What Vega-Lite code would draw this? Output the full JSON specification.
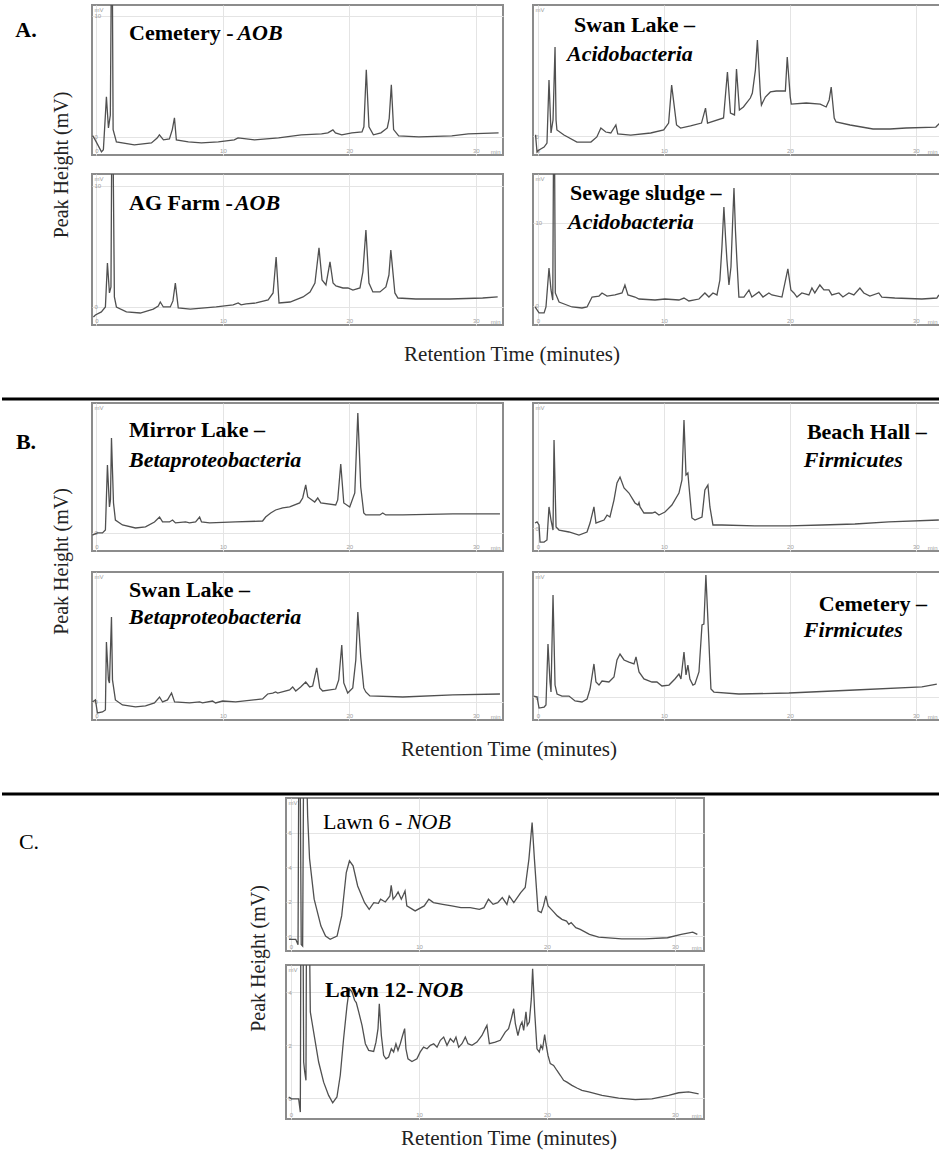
{
"$schema": "https://vega.github.io/schema/vega-lite/v6.json",
"padding": {"left": 0, "top": 4, "right": 0, "bottom": 0},
"background": "white",
"config": {
  "view": {"stroke": null},
  "concat": {"spacing": 0},
  "axis": {"domain": false, "ticks": false, "tickSize": 0, "grid": true, "gridColor": "#e4e4e4", "gridWidth": 1, "labelColor": "#a0a0a0", "labelFontSize": 6, "labelFont": "Liberation Sans", "titleFont": "Liberation Sans", "titleFontSize": 6, "titleColor": "#a0a0a0", "titleFontWeight": "normal", "labelFlush": true, "labelOverlap": false},
  "axisX": {"labelPadding": -8, "titleAnchor": "end", "titleAlign": "right", "titleBaseline": "bottom", "titleY": -1, "titlePadding": 0},
  "axisY": {"labelPadding": -2, "labelAlign": "left", "labelBaseline": "middle", "labelFlush": false, "titleAngle": 0, "titleAnchor": "end", "titleAlign": "left", "titleBaseline": "top", "titleX": 2, "titleY": 1}
},
"datasets": {
"A1": [{"t":-0.3,"v":0.1},{"t":-0.1,"v":-0.25},{"t":0.4,"v":-1.24},{"t":0.55,"v":-1.07},{"t":0.72,"v":2.0},{"t":0.79,"v":3.31},{"t":0.86,"v":2.2},{"t":0.95,"v":0.74},{"t":1.1,"v":1.8},{"t":1.19,"v":15},{"t":1.25,"v":15},{"t":1.32,"v":0.6},{"t":1.58,"v":-0.41},{"t":3.0,"v":-0.66},{"t":4.35,"v":-0.5},{"t":4.8,"v":-0.1},{"t":4.98,"v":0.17},{"t":5.3,"v":-0.25},{"t":5.77,"v":-0.17},{"t":6.0,"v":0.6},{"t":6.17,"v":1.57},{"t":6.32,"v":-0.25},{"t":7.27,"v":-0.41},{"t":8.3,"v":-0.5},{"t":9.64,"v":-0.41},{"t":10.9,"v":-0.25},{"t":11.2,"v":-0.08},{"t":12.5,"v":-0.25},{"t":14.4,"v":-0.08},{"t":16.2,"v":0.17},{"t":17.8,"v":0.25},{"t":18.3,"v":0.33},{"t":18.7,"v":0.58},{"t":18.9,"v":0.33},{"t":19.4,"v":0.17},{"t":20.2,"v":0.33},{"t":21.0,"v":0.41},{"t":21.15,"v":0.83},{"t":21.34,"v":5.54},{"t":21.55,"v":0.83},{"t":21.9,"v":0.17},{"t":22.5,"v":0.33},{"t":23.0,"v":0.74},{"t":23.15,"v":1.5},{"t":23.32,"v":4.3},{"t":23.5,"v":0.6},{"t":23.9,"v":0.08},{"t":25.5,"v":0.0},{"t":28.1,"v":0.08},{"t":29.4,"v":0.25},{"t":31.8,"v":0.33}],
"A2": [{"t":-0.2,"v":0.1},{"t":-0.08,"v":-1.32},{"t":0.08,"v":-1.16},{"t":0.48,"v":-0.91},{"t":0.71,"v":-0.58},{"t":0.87,"v":4.63},{"t":1.03,"v":0.25},{"t":1.19,"v":1.32},{"t":1.35,"v":7.36},{"t":1.43,"v":1.32},{"t":1.5,"v":0.5},{"t":2.06,"v":0.08},{"t":3.09,"v":-0.5},{"t":4.2,"v":-0.5},{"t":4.67,"v":-0.08},{"t":4.99,"v":0.66},{"t":5.38,"v":0.33},{"t":5.78,"v":0.25},{"t":6.18,"v":0.91},{"t":6.33,"v":0.17},{"t":7.36,"v":0.08},{"t":8.95,"v":0.25},{"t":9.98,"v":0.5},{"t":10.37,"v":1.07},{"t":10.61,"v":4.21},{"t":11.0,"v":0.91},{"t":11.32,"v":0.66},{"t":12.11,"v":0.83},{"t":12.98,"v":1.07},{"t":13.3,"v":2.31},{"t":13.46,"v":1.07},{"t":14.73,"v":1.49},{"t":15.04,"v":5.29},{"t":15.28,"v":1.9},{"t":15.6,"v":1.74},{"t":15.76,"v":5.54},{"t":15.99,"v":2.15},{"t":16.31,"v":2.4},{"t":16.86,"v":3.14},{"t":17.02,"v":3.55},{"t":17.26,"v":5.45},{"t":17.42,"v":7.93},{"t":17.66,"v":3.39},{"t":17.74,"v":2.56},{"t":18.05,"v":3.22},{"t":18.45,"v":3.64},{"t":18.92,"v":3.72},{"t":19.64,"v":3.72},{"t":19.79,"v":6.53},{"t":20.03,"v":3.22},{"t":20.11,"v":2.64},{"t":21.3,"v":2.73},{"t":22.41,"v":2.64},{"t":22.88,"v":2.4},{"t":23.12,"v":2.98},{"t":23.28,"v":4.05},{"t":23.52,"v":1.49},{"t":23.67,"v":1.16},{"t":24.78,"v":0.91},{"t":26.6,"v":0.58},{"t":27.95,"v":0.58},{"t":29.22,"v":0.66},{"t":31.59,"v":0.74},{"t":31.9,"v":1.07}],
"A3": [{"t":-0.24,"v":-0.83},{"t":-0.08,"v":-0.66},{"t":0.39,"v":-0.41},{"t":0.71,"v":0},{"t":0.87,"v":3.64},{"t":1.03,"v":1.16},{"t":1.15,"v":1.65},{"t":1.22,"v":15},{"t":1.3,"v":15},{"t":1.42,"v":0.83},{"t":1.58,"v":0},{"t":2.37,"v":-0.41},{"t":3.47,"v":-0.5},{"t":4.5,"v":-0.17},{"t":4.89,"v":0.08},{"t":5.05,"v":0.41},{"t":5.29,"v":0},{"t":5.84,"v":0},{"t":6.05,"v":0.5},{"t":6.24,"v":1.98},{"t":6.47,"v":-0.08},{"t":7.42,"v":-0.17},{"t":9.47,"v":0},{"t":10.81,"v":0.17},{"t":11.21,"v":0.33},{"t":11.44,"v":0.17},{"t":11.84,"v":0.25},{"t":12.63,"v":0.33},{"t":13.58,"v":0.58},{"t":13.97,"v":1.16},{"t":14.21,"v":4.13},{"t":14.44,"v":0.33},{"t":15.31,"v":0.41},{"t":16.34,"v":0.83},{"t":16.89,"v":1.24},{"t":17.28,"v":1.98},{"t":17.6,"v":4.88},{"t":17.84,"v":2.23},{"t":18.15,"v":1.82},{"t":18.47,"v":3.72},{"t":18.71,"v":1.98},{"t":18.94,"v":1.74},{"t":19.49,"v":1.57},{"t":19.89,"v":1.57},{"t":20.28,"v":1.4},{"t":20.84,"v":1.57},{"t":21.07,"v":2.89},{"t":21.31,"v":6.36},{"t":21.55,"v":1.98},{"t":21.86,"v":1.24},{"t":22.42,"v":1.24},{"t":22.89,"v":1.65},{"t":23.13,"v":2.64},{"t":23.28,"v":4.71},{"t":23.6,"v":1.16},{"t":23.84,"v":0.74},{"t":25.26,"v":0.66},{"t":27.94,"v":0.66},{"t":30.54,"v":0.74},{"t":31.73,"v":0.83}],
"A4": [{"t":-0.24,"v":-0.12},{"t":0.08,"v":-0.84},{"t":0.48,"v":-0.84},{"t":0.63,"v":-0.12},{"t":0.87,"v":4.58},{"t":1.03,"v":1.93},{"t":1.17,"v":0.72},{"t":1.24,"v":22},{"t":1.3,"v":22},{"t":1.37,"v":1.57},{"t":1.67,"v":0.48},{"t":2.7,"v":-0.12},{"t":3.49,"v":-0.24},{"t":3.89,"v":-0.12},{"t":4.29,"v":1.08},{"t":4.84,"v":1.2},{"t":5.08,"v":1.57},{"t":5.48,"v":1.2},{"t":6.11,"v":1.33},{"t":6.67,"v":1.57},{"t":6.9,"v":2.53},{"t":7.14,"v":1.33},{"t":7.7,"v":1.08},{"t":8.02,"v":0.84},{"t":9.29,"v":0.72},{"t":10.08,"v":0.84},{"t":11.19,"v":0.72},{"t":11.59,"v":0.96},{"t":11.98,"v":0.6},{"t":12.78,"v":0.84},{"t":13.25,"v":1.57},{"t":13.57,"v":1.08},{"t":13.89,"v":1.57},{"t":14.21,"v":1.33},{"t":14.44,"v":3.13},{"t":14.6,"v":7.0},{"t":14.76,"v":11.93},{"t":14.9,"v":8.0},{"t":15.0,"v":5.54},{"t":15.16,"v":2.53},{"t":15.32,"v":4.7},{"t":15.45,"v":10.0},{"t":15.56,"v":14.22},{"t":15.68,"v":9.0},{"t":15.79,"v":5.54},{"t":15.95,"v":1.08},{"t":16.35,"v":1.08},{"t":16.75,"v":1.93},{"t":16.98,"v":1.08},{"t":17.54,"v":1.69},{"t":17.86,"v":1.08},{"t":18.33,"v":1.57},{"t":18.57,"v":1.33},{"t":19.37,"v":1.08},{"t":19.84,"v":4.46},{"t":20.08,"v":1.93},{"t":20.32,"v":1.57},{"t":20.56,"v":1.08},{"t":20.95,"v":1.57},{"t":21.51,"v":1.33},{"t":21.75,"v":2.17},{"t":21.98,"v":1.57},{"t":22.38,"v":2.53},{"t":22.7,"v":1.93},{"t":23.1,"v":1.93},{"t":23.33,"v":1.33},{"t":23.89,"v":1.57},{"t":24.21,"v":1.08},{"t":24.68,"v":1.57},{"t":25.08,"v":1.33},{"t":25.56,"v":2.17},{"t":25.87,"v":1.57},{"t":26.35,"v":1.2},{"t":27.06,"v":1.57},{"t":27.3,"v":1.08},{"t":28.33,"v":0.96},{"t":30.48,"v":0.84},{"t":31.67,"v":0.96},{"t":31.83,"v":1.33}],
"B1": [{"t":-0.32,"v":-0.17},{"t":0.08,"v":0},{"t":0.48,"v":0},{"t":0.71,"v":0.25},{"t":0.87,"v":5.62},{"t":1.03,"v":2.15},{"t":1.11,"v":2.73},{"t":1.19,"v":7.85},{"t":1.35,"v":2.48},{"t":1.5,"v":1.07},{"t":2.06,"v":0.66},{"t":3.09,"v":0.41},{"t":3.88,"v":0.5},{"t":4.59,"v":0.91},{"t":4.99,"v":1.32},{"t":5.23,"v":0.91},{"t":5.78,"v":0.91},{"t":6.02,"v":1.07},{"t":6.25,"v":0.83},{"t":7.05,"v":0.91},{"t":7.36,"v":0.83},{"t":7.84,"v":0.91},{"t":8.16,"v":1.32},{"t":8.31,"v":0.91},{"t":8.95,"v":0.83},{"t":11.0,"v":0.91},{"t":13.14,"v":0.99},{"t":13.38,"v":1.32},{"t":13.78,"v":1.65},{"t":14.17,"v":1.9},{"t":14.73,"v":2.07},{"t":15.28,"v":2.15},{"t":16.07,"v":2.48},{"t":16.31,"v":2.89},{"t":16.55,"v":3.97},{"t":16.71,"v":2.98},{"t":17.26,"v":2.56},{"t":17.5,"v":2.89},{"t":17.74,"v":2.48},{"t":18.92,"v":2.31},{"t":19.08,"v":2.73},{"t":19.32,"v":5.7},{"t":19.56,"v":2.48},{"t":20.03,"v":2.15},{"t":20.43,"v":3.31},{"t":20.67,"v":9.92},{"t":20.9,"v":3.8},{"t":21.14,"v":1.65},{"t":21.3,"v":1.49},{"t":22.41,"v":1.49},{"t":22.64,"v":1.65},{"t":22.88,"v":1.49},{"t":24.23,"v":1.49},{"t":28.19,"v":1.57},{"t":31.91,"v":1.57}],
"B2": [{"t":-0.24,"v":0.41},{"t":-0.08,"v":0.5},{"t":0.08,"v":0.25},{"t":0.16,"v":-1.16},{"t":0.48,"v":-1.16},{"t":0.71,"v":-0.99},{"t":0.87,"v":1.74},{"t":1.03,"v":0.66},{"t":1.19,"v":-0.17},{"t":1.27,"v":7.27},{"t":1.43,"v":0.08},{"t":1.67,"v":-0.17},{"t":2.46,"v":-0.33},{"t":3.25,"v":-0.58},{"t":3.89,"v":-0.33},{"t":4.13,"v":0.41},{"t":4.44,"v":1.74},{"t":4.6,"v":0.41},{"t":4.84,"v":0.5},{"t":5.24,"v":0.66},{"t":5.48,"v":1.07},{"t":5.71,"v":0.91},{"t":6.03,"v":2.31},{"t":6.27,"v":3.72},{"t":6.51,"v":4.21},{"t":6.83,"v":3.31},{"t":7.22,"v":2.89},{"t":7.7,"v":2.07},{"t":7.94,"v":1.9},{"t":8.02,"v":2.1},{"t":8.1,"v":1.74},{"t":8.41,"v":1.24},{"t":9.05,"v":1.24},{"t":9.29,"v":1.32},{"t":9.6,"v":1.07},{"t":10.08,"v":1.32},{"t":10.63,"v":1.9},{"t":11.19,"v":2.89},{"t":11.43,"v":3.97},{"t":11.59,"v":8.93},{"t":11.75,"v":4.38},{"t":11.9,"v":4.55},{"t":11.98,"v":3.55},{"t":12.22,"v":0.83},{"t":12.46,"v":0.66},{"t":13.02,"v":0.91},{"t":13.25,"v":3.14},{"t":13.49,"v":3.55},{"t":13.65,"v":1.74},{"t":13.89,"v":0.25},{"t":14.6,"v":0.25},{"t":17.22,"v":0.17},{"t":19.92,"v":0.17},{"t":22.54,"v":0.25},{"t":25.16,"v":0.33},{"t":27.86,"v":0.5},{"t":31.83,"v":0.66}],
"B3": [{"t":-0.32,"v":0},{"t":-0.08,"v":0.17},{"t":0.08,"v":-0.91},{"t":0.48,"v":-0.83},{"t":0.71,"v":-0.66},{"t":0.79,"v":4.96},{"t":0.95,"v":1.82},{"t":1.03,"v":1.57},{"t":1.19,"v":7.02},{"t":1.27,"v":1.82},{"t":1.5,"v":0.17},{"t":2.06,"v":-0.25},{"t":3.09,"v":-0.41},{"t":3.88,"v":-0.33},{"t":4.59,"v":-0.08},{"t":4.99,"v":0.41},{"t":5.23,"v":0},{"t":5.62,"v":0.17},{"t":5.94,"v":0.74},{"t":6.18,"v":0},{"t":7.36,"v":-0.08},{"t":8.16,"v":0},{"t":8.39,"v":-0.08},{"t":9.18,"v":0.08},{"t":9.42,"v":-0.08},{"t":9.98,"v":0.08},{"t":11.01,"v":0},{"t":13.14,"v":0.25},{"t":13.54,"v":0.66},{"t":13.94,"v":0.74},{"t":14.17,"v":0.83},{"t":14.33,"v":0.74},{"t":15.28,"v":0.99},{"t":15.52,"v":1.24},{"t":15.76,"v":0.91},{"t":16.15,"v":1.24},{"t":16.55,"v":1.65},{"t":16.86,"v":1.24},{"t":17.1,"v":1.32},{"t":17.42,"v":2.81},{"t":17.66,"v":1.16},{"t":17.89,"v":0.91},{"t":18.92,"v":1.07},{"t":19.16,"v":1.82},{"t":19.4,"v":4.71},{"t":19.56,"v":1.57},{"t":19.87,"v":0.74},{"t":20.27,"v":1.16},{"t":20.51,"v":3.47},{"t":20.67,"v":7.44},{"t":20.9,"v":3.72},{"t":21.14,"v":1.16},{"t":21.3,"v":0.83},{"t":21.62,"v":0.5},{"t":24.23,"v":0.41},{"t":28.19,"v":0.58},{"t":31.91,"v":0.66}],
"B4": [{"t":-0.32,"v":0.08},{"t":-0.08,"v":0},{"t":0.08,"v":-0.91},{"t":0.48,"v":-0.83},{"t":0.63,"v":-0.66},{"t":0.79,"v":4.38},{"t":0.95,"v":1.24},{"t":1.03,"v":0.41},{"t":1.19,"v":8.43},{"t":1.35,"v":0.99},{"t":1.51,"v":0.25},{"t":1.9,"v":0.08},{"t":2.46,"v":0.08},{"t":2.94,"v":-0.33},{"t":3.49,"v":-0.41},{"t":3.89,"v":-0.17},{"t":4.13,"v":0.66},{"t":4.44,"v":2.73},{"t":4.6,"v":1.24},{"t":4.84,"v":0.99},{"t":5.08,"v":1.32},{"t":5.63,"v":1.24},{"t":6.03,"v":1.65},{"t":6.27,"v":3.06},{"t":6.51,"v":3.55},{"t":6.83,"v":3.06},{"t":7.22,"v":2.89},{"t":7.62,"v":2.73},{"t":7.78,"v":3.31},{"t":8.02,"v":2.07},{"t":8.41,"v":1.49},{"t":9.05,"v":1.24},{"t":9.44,"v":1.24},{"t":9.84,"v":0.91},{"t":10.4,"v":0.99},{"t":10.87,"v":1.49},{"t":11.19,"v":1.9},{"t":11.35,"v":1.49},{"t":11.59,"v":3.72},{"t":11.75,"v":1.82},{"t":11.9,"v":2.64},{"t":12.06,"v":1.49},{"t":12.3,"v":0.99},{"t":12.46,"v":1.07},{"t":12.78,"v":2.07},{"t":13.02,"v":5.95},{"t":13.17,"v":6.03},{"t":13.33,"v":10.08},{"t":13.57,"v":4.55},{"t":13.73,"v":0.66},{"t":13.97,"v":0.41},{"t":15.95,"v":0.25},{"t":19.92,"v":0.33},{"t":25.16,"v":0.58},{"t":30.48,"v":0.83},{"t":31.67,"v":1.07}],
"C1": [{"t":-0.16,"v":-0.19},{"t":0.37,"v":-0.19},{"t":0.55,"v":-0.5},{"t":0.62,"v":12},{"t":0.7,"v":12},{"t":0.8,"v":-0.49},{"t":0.91,"v":-0.58},{"t":1.0,"v":12},{"t":1.15,"v":12},{"t":1.3,"v":7},{"t":1.45,"v":4.5},{"t":1.81,"v":2.14},{"t":2.34,"v":0.58},{"t":2.7,"v":0.0},{"t":3.06,"v":-0.19},{"t":3.6,"v":0},{"t":3.96,"v":1.17},{"t":4.32,"v":3.69},{"t":4.57,"v":4.37},{"t":4.85,"v":4.08},{"t":5.21,"v":2.91},{"t":5.75,"v":1.94},{"t":6.11,"v":1.55},{"t":6.47,"v":1.94},{"t":6.83,"v":1.9},{"t":7.0,"v":2.14},{"t":7.37,"v":1.98},{"t":7.73,"v":2.33},{"t":7.83,"v":2.95},{"t":7.98,"v":2.14},{"t":8.19,"v":2.33},{"t":8.37,"v":2.56},{"t":8.62,"v":2.14},{"t":8.8,"v":2.43},{"t":8.91,"v":2.62},{"t":9.05,"v":1.75},{"t":9.7,"v":1.46},{"t":10.41,"v":1.75},{"t":10.77,"v":2.14},{"t":11.13,"v":1.94},{"t":11.85,"v":1.84},{"t":12.56,"v":1.75},{"t":13.28,"v":1.65},{"t":14.0,"v":1.65},{"t":14.72,"v":1.55},{"t":15.08,"v":1.65},{"t":15.43,"v":2.14},{"t":15.79,"v":1.84},{"t":16.15,"v":1.94},{"t":16.51,"v":2.23},{"t":16.87,"v":1.84},{"t":17.05,"v":2.33},{"t":17.41,"v":1.94},{"t":17.95,"v":2.52},{"t":18.3,"v":2.82},{"t":18.59,"v":4.47},{"t":18.84,"v":6.6},{"t":19.02,"v":4.47},{"t":19.3,"v":1.46},{"t":19.55,"v":1.36},{"t":19.73,"v":1.75},{"t":19.91,"v":2.33},{"t":20.09,"v":1.75},{"t":20.45,"v":1.46},{"t":20.81,"v":1.17},{"t":21.17,"v":0.97},{"t":21.53,"v":0.87},{"t":21.71,"v":0.68},{"t":21.89,"v":0.78},{"t":22.25,"v":0.49},{"t":22.6,"v":0.39},{"t":23.32,"v":0.1},{"t":24.04,"v":-0.06},{"t":25.84,"v":-0.16},{"t":27.63,"v":-0.16},{"t":29.42,"v":-0.1},{"t":30.49,"v":0.1},{"t":31.39,"v":0.23},{"t":31.75,"v":0.1}],
"C2": [{"t":-0.18,"v":0.04},{"t":0.03,"v":-0.03},{"t":0.6,"v":-0.03},{"t":0.73,"v":-0.53},{"t":0.78,"v":8},{"t":0.93,"v":8},{"t":0.99,"v":1.36},{"t":1.07,"v":1.0},{"t":1.17,"v":0.67},{"t":1.22,"v":8},{"t":1.4,"v":8},{"t":1.51,"v":3.25},{"t":1.64,"v":2.87},{"t":1.9,"v":2.11},{"t":2.16,"v":1.36},{"t":2.55,"v":0.6},{"t":2.94,"v":0.1},{"t":3.26,"v":-0.18},{"t":3.59,"v":0.04},{"t":3.85,"v":0.86},{"t":4.11,"v":2.24},{"t":4.38,"v":3.5},{"t":4.56,"v":4.13},{"t":4.77,"v":4.0},{"t":4.97,"v":3.69},{"t":5.1,"v":3.6},{"t":5.29,"v":3.25},{"t":5.55,"v":2.74},{"t":5.81,"v":2.05},{"t":6.07,"v":1.8},{"t":6.46,"v":1.76},{"t":6.64,"v":2.11},{"t":6.8,"v":2.62},{"t":6.9,"v":3.56},{"t":7.06,"v":2.36},{"t":7.24,"v":1.61},{"t":7.42,"v":1.48},{"t":7.63,"v":1.55},{"t":7.84,"v":1.86},{"t":8.02,"v":1.74},{"t":8.2,"v":2.05},{"t":8.36,"v":1.8},{"t":8.54,"v":2.05},{"t":8.72,"v":2.36},{"t":8.88,"v":2.62},{"t":8.98,"v":1.86},{"t":9.14,"v":1.48},{"t":9.45,"v":1.38},{"t":9.84,"v":1.48},{"t":10.1,"v":1.74},{"t":10.36,"v":1.92},{"t":10.63,"v":1.86},{"t":10.89,"v":1.99},{"t":11.15,"v":2.05},{"t":11.41,"v":1.92},{"t":11.67,"v":2.18},{"t":11.93,"v":2.3},{"t":12.19,"v":1.99},{"t":12.45,"v":2.24},{"t":12.71,"v":2.11},{"t":12.89,"v":2.3},{"t":13.1,"v":1.92},{"t":13.36,"v":2.05},{"t":13.62,"v":2.3},{"t":13.83,"v":2.05},{"t":14.14,"v":1.99},{"t":14.53,"v":2.11},{"t":14.92,"v":2.36},{"t":15.18,"v":2.62},{"t":15.31,"v":2.74},{"t":15.5,"v":2.05},{"t":15.96,"v":2.11},{"t":16.35,"v":2.18},{"t":16.74,"v":2.49},{"t":17.0,"v":2.62},{"t":17.21,"v":2.99},{"t":17.4,"v":3.37},{"t":17.53,"v":2.81},{"t":17.73,"v":2.36},{"t":17.92,"v":2.74},{"t":18.05,"v":2.87},{"t":18.18,"v":2.55},{"t":18.36,"v":3.25},{"t":18.46,"v":2.74},{"t":18.62,"v":2.87},{"t":18.78,"v":3.75},{"t":18.88,"v":4.88},{"t":19.04,"v":3.25},{"t":19.22,"v":1.86},{"t":19.4,"v":1.74},{"t":19.53,"v":1.99},{"t":19.66,"v":1.86},{"t":19.82,"v":2.39},{"t":19.92,"v":2.05},{"t":20.08,"v":1.61},{"t":20.26,"v":1.3},{"t":20.52,"v":1.23},{"t":20.78,"v":1.04},{"t":21.04,"v":0.86},{"t":21.3,"v":0.67},{"t":21.56,"v":0.6},{"t":21.95,"v":0.48},{"t":22.34,"v":0.38},{"t":22.73,"v":0.29},{"t":23.26,"v":0.23},{"t":24.3,"v":0.1},{"t":25.6,"v":0.0},{"t":26.9,"v":-0.06},{"t":28.2,"v":-0.03},{"t":29.51,"v":0.1},{"t":30.29,"v":0.2},{"t":31.07,"v":0.23},{"t":31.85,"v":0.16}],
"labels": [
{"panel":"A1","part":"site","t":2.58,"v":8.6,"label":"Cemetery -"},
{"panel":"A1","part":"taxon","t":11.15,"v":8.6,"label":"AOB"},
{"panel":"A2","part":"site","t":2.86,"v":9.17,"label":"Swan Lake –"},
{"panel":"A2","part":"taxon","t":2.3,"v":6.78,"label":"Acidobacteria"},
{"panel":"A3","part":"site","t":2.58,"v":8.6,"label":"AG Farm -"},
{"panel":"A3","part":"taxon","t":10.95,"v":8.6,"label":"AOB"},
{"panel":"A4","part":"site","t":2.54,"v":13.6,"label":"Sewage sludge –"},
{"panel":"A4","part":"taxon","t":2.38,"v":10.1,"label":"Acidobacteria"},
{"panel":"B1","part":"site","t":2.58,"v":8.5,"label":"Mirror Lake –"},
{"panel":"B1","part":"taxon","t":2.58,"v":6.0,"label":"Betaproteobacteria"},
{"panel":"B2","part":"site","t":21.35,"v":7.93,"label":"Beach Hall –"},
{"panel":"B2","part":"taxon","t":21.11,"v":5.62,"label":"Firmicutes"},
{"panel":"B3","part":"site","t":2.58,"v":9.26,"label":"Swan Lake –"},
{"panel":"B3","part":"taxon","t":2.58,"v":7.02,"label":"Betaproteobacteria"},
{"panel":"B4","part":"site","t":22.3,"v":7.69,"label":"Cemetery –"},
{"panel":"B4","part":"taxon","t":21.11,"v":5.54,"label":"Firmicutes"},
{"panel":"C1","part":"site","t":2.5,"v":6.6,"label":"Lawn 6 -"},
{"panel":"C1","part":"taxon","t":9.06,"v":6.6,"label":"NOB"},
{"panel":"C2","part":"site","t":2.66,"v":4.08,"label":"Lawn 12-"},
{"panel":"C2","part":"taxon","t":9.84,"v":4.08,"label":"NOB"}
]
},
"spacing": 1,
"vconcat": [
 {"spacing": 27, "vconcat": [
  {"spacing": 0, "hconcat": [
   {"width": 48, "height": 50, "data": {"values": [{"label": "A."}]}, "mark": {"type": "text", "font": "Liberation Serif", "fontSize": 22, "fontWeight": "bold", "color": "#000"}, "encoding": {"text": {"field": "label"}}},
   {"spacing": 17, "hconcat": [
    {"width": 24, "height": 320, "data": {"values": [{"label": "Peak Height (mV)"}]}, "mark": {"type": "text", "angle": 270, "font": "Liberation Serif", "fontSize": 20, "color": "#222"}, "encoding": {"text": {"field": "label"}}},
    {"spacing": 14, "vconcat": [
     {"spacing": 17, "vconcat": [
      {"spacing": 28, "hconcat": [
       {"width": 411, "height": 150, "view": {"stroke": "#8c8c8c", "strokeWidth": 2}, "layer": [
        {"data": {"name": "A1"}, "mark": {"type": "line", "clip": true, "color": "#505050", "strokeWidth": 1.3}, "encoding": {"x": {"field": "t", "type": "quantitative", "title": "min", "scale": {"domain": [-0.35, 32.15], "nice": false, "zero": false}, "axis": {"values": [0, 10, 20, 30], "titleX": 408}}, "y": {"field": "v", "type": "quantitative", "title": "mV", "scale": {"domain": [-1.5, 10.9], "nice": false, "zero": false}, "axis": {"values": [0, 10]}}}},
        {"data": {"name": "labels"}, "transform": [{"filter": "datum.panel == 'A1' && datum.part == 'site'"}], "mark": {"type": "text", "align": "left", "baseline": "middle", "font": "Liberation Serif", "fontSize": 22, "fontWeight": "bold", "color": "#000"}, "encoding": {"x": {"field": "t", "type": "quantitative", "title": "min"}, "y": {"field": "v", "type": "quantitative", "title": "mV"}, "text": {"field": "label"}}},
        {"data": {"name": "labels"}, "transform": [{"filter": "datum.panel == 'A1' && datum.part == 'taxon'"}], "mark": {"type": "text", "align": "left", "baseline": "middle", "font": "Liberation Serif", "fontSize": 22, "fontWeight": "bold", "fontStyle": "italic", "color": "#000"}, "encoding": {"x": {"field": "t", "type": "quantitative", "title": "min"}, "y": {"field": "v", "type": "quantitative", "title": "mV"}, "text": {"field": "label"}}}
       ]},
       {"width": 408, "height": 150, "view": {"stroke": "#8c8c8c", "strokeWidth": 2}, "layer": [
        {"data": {"name": "A2"}, "mark": {"type": "line", "clip": true, "color": "#505050", "strokeWidth": 1.3}, "encoding": {"x": {"field": "t", "type": "quantitative", "title": "min", "scale": {"domain": [-0.4, 32.0], "nice": false, "zero": false}, "axis": {"values": [0, 10, 20, 30], "titleX": 404}}, "y": {"field": "v", "type": "quantitative", "title": "mV", "scale": {"domain": [-1.57, 10.83], "nice": false, "zero": false}, "axis": {"values": [0]}}}},
        {"data": {"name": "labels"}, "transform": [{"filter": "datum.panel == 'A2' && datum.part == 'site'"}], "mark": {"type": "text", "align": "left", "baseline": "middle", "font": "Liberation Serif", "fontSize": 22, "fontWeight": "bold", "color": "#000"}, "encoding": {"x": {"field": "t", "type": "quantitative", "title": "min"}, "y": {"field": "v", "type": "quantitative", "title": "mV"}, "text": {"field": "label"}}},
        {"data": {"name": "labels"}, "transform": [{"filter": "datum.panel == 'A2' && datum.part == 'taxon'"}], "mark": {"type": "text", "align": "left", "baseline": "middle", "font": "Liberation Serif", "fontSize": 22, "fontWeight": "bold", "fontStyle": "italic", "color": "#000"}, "encoding": {"x": {"field": "t", "type": "quantitative", "title": "min"}, "y": {"field": "v", "type": "quantitative", "title": "mV"}, "text": {"field": "label"}}}
       ]}
      ]},
      {"spacing": 28, "hconcat": [
       {"width": 411, "height": 151, "view": {"stroke": "#8c8c8c", "strokeWidth": 2}, "layer": [
        {"data": {"name": "A3"}, "mark": {"type": "line", "clip": true, "color": "#505050", "strokeWidth": 1.3}, "encoding": {"x": {"field": "t", "type": "quantitative", "title": "min", "scale": {"domain": [-0.35, 32.15], "nice": false, "zero": false}, "axis": {"values": [0, 10, 20, 30], "titleX": 408}}, "y": {"field": "v", "type": "quantitative", "title": "mV", "scale": {"domain": [-1.49, 10.99], "nice": false, "zero": false}, "axis": {"values": [0, 10]}}}},
        {"data": {"name": "labels"}, "transform": [{"filter": "datum.panel == 'A3' && datum.part == 'site'"}], "mark": {"type": "text", "align": "left", "baseline": "middle", "font": "Liberation Serif", "fontSize": 22, "fontWeight": "bold", "color": "#000"}, "encoding": {"x": {"field": "t", "type": "quantitative", "title": "min"}, "y": {"field": "v", "type": "quantitative", "title": "mV"}, "text": {"field": "label"}}},
        {"data": {"name": "labels"}, "transform": [{"filter": "datum.panel == 'A3' && datum.part == 'taxon'"}], "mark": {"type": "text", "align": "left", "baseline": "middle", "font": "Liberation Serif", "fontSize": 22, "fontWeight": "bold", "fontStyle": "italic", "color": "#000"}, "encoding": {"x": {"field": "t", "type": "quantitative", "title": "min"}, "y": {"field": "v", "type": "quantitative", "title": "mV"}, "text": {"field": "label"}}}
       ]},
       {"width": 408, "height": 151, "view": {"stroke": "#8c8c8c", "strokeWidth": 2}, "layer": [
        {"data": {"name": "A4"}, "mark": {"type": "line", "clip": true, "color": "#505050", "strokeWidth": 1.3}, "encoding": {"x": {"field": "t", "type": "quantitative", "title": "min", "scale": {"domain": [-0.4, 32.0], "nice": false, "zero": false}, "axis": {"values": [0, 10, 20, 30], "titleX": 404}}, "y": {"field": "v", "type": "quantitative", "title": "mV", "scale": {"domain": [-2.29, 15.9], "nice": false, "zero": false}, "axis": {"values": [0, 10]}}}},
        {"data": {"name": "labels"}, "transform": [{"filter": "datum.panel == 'A4' && datum.part == 'site'"}], "mark": {"type": "text", "align": "left", "baseline": "middle", "font": "Liberation Serif", "fontSize": 22, "fontWeight": "bold", "color": "#000"}, "encoding": {"x": {"field": "t", "type": "quantitative", "title": "min"}, "y": {"field": "v", "type": "quantitative", "title": "mV"}, "text": {"field": "label"}}},
        {"data": {"name": "labels"}, "transform": [{"filter": "datum.panel == 'A4' && datum.part == 'taxon'"}], "mark": {"type": "text", "align": "left", "baseline": "middle", "font": "Liberation Serif", "fontSize": 22, "fontWeight": "bold", "fontStyle": "italic", "color": "#000"}, "encoding": {"x": {"field": "t", "type": "quantitative", "title": "min"}, "y": {"field": "v", "type": "quantitative", "title": "mV"}, "text": {"field": "label"}}}
       ]}
      ]}
     ]},
     {"width": 840, "height": 30, "data": {"values": [{"label": "Retention Time (minutes)"}]}, "mark": {"type": "text", "font": "Liberation Serif", "fontSize": 21, "color": "#222"}, "encoding": {"text": {"field": "label"}}}
    ]}
   ]}
  ]},
  {"width": 939, "height": 4, "data": {"values": [{"from": 0, "to": 1}]}, "mark": {"type": "rule", "color": "#000", "strokeWidth": 3}, "encoding": {"x": {"field": "from", "type": "quantitative", "scale": {"domain": [0, 1]}, "axis": null}, "x2": {"field": "to"}}}
 ]},
 {"spacing": 27, "vconcat": [
  {"spacing": 0, "hconcat": [
   {"width": 48, "height": 78, "data": {"values": [{"label": "B."}]}, "mark": {"type": "text", "font": "Liberation Serif", "fontSize": 22, "fontWeight": "bold", "color": "#000"}, "encoding": {"text": {"field": "label"}}},
   {"spacing": 17, "hconcat": [
    {"width": 24, "height": 317, "data": {"values": [{"label": "Peak Height (mV)"}]}, "mark": {"type": "text", "angle": 270, "font": "Liberation Serif", "fontSize": 20, "color": "#222"}, "encoding": {"text": {"field": "label"}}},
    {"spacing": 14, "vconcat": [
     {"spacing": 19, "vconcat": [
      {"spacing": 28, "hconcat": [
       {"width": 411, "height": 148, "view": {"stroke": "#8c8c8c", "strokeWidth": 2}, "layer": [
        {"data": {"name": "B1"}, "mark": {"type": "line", "clip": true, "color": "#505050", "strokeWidth": 1.3}, "encoding": {"x": {"field": "t", "type": "quantitative", "title": "min", "scale": {"domain": [-0.35, 32.15], "nice": false, "zero": false}, "axis": {"values": [0, 10, 20, 30], "titleX": 408}}, "y": {"field": "v", "type": "quantitative", "title": "mV", "scale": {"domain": [-1.49, 10.74], "nice": false, "zero": false}, "axis": {"values": [0]}}}},
        {"data": {"name": "labels"}, "transform": [{"filter": "datum.panel == 'B1' && datum.part == 'site'"}], "mark": {"type": "text", "align": "left", "baseline": "middle", "font": "Liberation Serif", "fontSize": 22, "fontWeight": "bold", "color": "#000"}, "encoding": {"x": {"field": "t", "type": "quantitative", "title": "min"}, "y": {"field": "v", "type": "quantitative", "title": "mV"}, "text": {"field": "label"}}},
        {"data": {"name": "labels"}, "transform": [{"filter": "datum.panel == 'B1' && datum.part == 'taxon'"}], "mark": {"type": "text", "align": "left", "baseline": "middle", "font": "Liberation Serif", "fontSize": 22, "fontWeight": "bold", "fontStyle": "italic", "color": "#000"}, "encoding": {"x": {"field": "t", "type": "quantitative", "title": "min"}, "y": {"field": "v", "type": "quantitative", "title": "mV"}, "text": {"field": "label"}}}
       ]},
       {"width": 408, "height": 148, "view": {"stroke": "#8c8c8c", "strokeWidth": 2}, "layer": [
        {"data": {"name": "B2"}, "mark": {"type": "line", "clip": true, "color": "#505050", "strokeWidth": 1.3}, "encoding": {"x": {"field": "t", "type": "quantitative", "title": "min", "scale": {"domain": [-0.4, 32.0], "nice": false, "zero": false}, "axis": {"values": [0, 10, 20, 30], "titleX": 404}}, "y": {"field": "v", "type": "quantitative", "title": "mV", "scale": {"domain": [-1.9, 10.33], "nice": false, "zero": false}, "axis": {"values": [0]}}}},
        {"data": {"name": "labels"}, "transform": [{"filter": "datum.panel == 'B2' && datum.part == 'site'"}], "mark": {"type": "text", "align": "left", "baseline": "middle", "font": "Liberation Serif", "fontSize": 22, "fontWeight": "bold", "color": "#000"}, "encoding": {"x": {"field": "t", "type": "quantitative", "title": "min"}, "y": {"field": "v", "type": "quantitative", "title": "mV"}, "text": {"field": "label"}}},
        {"data": {"name": "labels"}, "transform": [{"filter": "datum.panel == 'B2' && datum.part == 'taxon'"}], "mark": {"type": "text", "align": "left", "baseline": "middle", "font": "Liberation Serif", "fontSize": 22, "fontWeight": "bold", "fontStyle": "italic", "color": "#000"}, "encoding": {"x": {"field": "t", "type": "quantitative", "title": "min"}, "y": {"field": "v", "type": "quantitative", "title": "mV"}, "text": {"field": "label"}}}
       ]}
      ]},
      {"spacing": 28, "hconcat": [
       {"width": 411, "height": 148, "view": {"stroke": "#8c8c8c", "strokeWidth": 2}, "layer": [
        {"data": {"name": "B3"}, "mark": {"type": "line", "clip": true, "color": "#505050", "strokeWidth": 1.3}, "encoding": {"x": {"field": "t", "type": "quantitative", "title": "min", "scale": {"domain": [-0.35, 32.15], "nice": false, "zero": false}, "axis": {"values": [0, 10, 20, 30], "titleX": 408}}, "y": {"field": "v", "type": "quantitative", "title": "mV", "scale": {"domain": [-1.49, 10.74], "nice": false, "zero": false}, "axis": {"values": [0]}}}},
        {"data": {"name": "labels"}, "transform": [{"filter": "datum.panel == 'B3' && datum.part == 'site'"}], "mark": {"type": "text", "align": "left", "baseline": "middle", "font": "Liberation Serif", "fontSize": 22, "fontWeight": "bold", "color": "#000"}, "encoding": {"x": {"field": "t", "type": "quantitative", "title": "min"}, "y": {"field": "v", "type": "quantitative", "title": "mV"}, "text": {"field": "label"}}},
        {"data": {"name": "labels"}, "transform": [{"filter": "datum.panel == 'B3' && datum.part == 'taxon'"}], "mark": {"type": "text", "align": "left", "baseline": "middle", "font": "Liberation Serif", "fontSize": 22, "fontWeight": "bold", "fontStyle": "italic", "color": "#000"}, "encoding": {"x": {"field": "t", "type": "quantitative", "title": "min"}, "y": {"field": "v", "type": "quantitative", "title": "mV"}, "text": {"field": "label"}}}
       ]},
       {"width": 408, "height": 148, "view": {"stroke": "#8c8c8c", "strokeWidth": 2}, "layer": [
        {"data": {"name": "B4"}, "mark": {"type": "line", "clip": true, "color": "#505050", "strokeWidth": 1.3}, "encoding": {"x": {"field": "t", "type": "quantitative", "title": "min", "scale": {"domain": [-0.4, 32.0], "nice": false, "zero": false}, "axis": {"values": [0, 10, 20, 30], "titleX": 404}}, "y": {"field": "v", "type": "quantitative", "title": "mV", "scale": {"domain": [-1.9, 10.33], "nice": false, "zero": false}, "axis": {"values": [0]}}}},
        {"data": {"name": "labels"}, "transform": [{"filter": "datum.panel == 'B4' && datum.part == 'site'"}], "mark": {"type": "text", "align": "left", "baseline": "middle", "font": "Liberation Serif", "fontSize": 22, "fontWeight": "bold", "color": "#000"}, "encoding": {"x": {"field": "t", "type": "quantitative", "title": "min"}, "y": {"field": "v", "type": "quantitative", "title": "mV"}, "text": {"field": "label"}}},
        {"data": {"name": "labels"}, "transform": [{"filter": "datum.panel == 'B4' && datum.part == 'taxon'"}], "mark": {"type": "text", "align": "left", "baseline": "middle", "font": "Liberation Serif", "fontSize": 22, "fontWeight": "bold", "fontStyle": "italic", "color": "#000"}, "encoding": {"x": {"field": "t", "type": "quantitative", "title": "min"}, "y": {"field": "v", "type": "quantitative", "title": "mV"}, "text": {"field": "label"}}}
       ]}
      ]}
     ]},
     {"width": 834, "height": 30, "data": {"values": [{"label": "Retention Time (minutes)"}]}, "mark": {"type": "text", "font": "Liberation Serif", "fontSize": 21, "color": "#222"}, "encoding": {"text": {"field": "label"}}}
    ]}
   ]}
  ]},
  {"width": 939, "height": 4, "data": {"values": [{"from": 0, "to": 1}]}, "mark": {"type": "rule", "color": "#000", "strokeWidth": 3}, "encoding": {"x": {"field": "from", "type": "quantitative", "scale": {"domain": [0, 1]}, "axis": null}, "x2": {"field": "to"}}}
 ]},
 {"spacing": 191, "hconcat": [
  {"width": 54, "height": 88, "data": {"values": [{"label": "C."}]}, "mark": {"type": "text", "font": "Liberation Serif", "fontSize": 22, "color": "#000"}, "encoding": {"text": {"field": "label"}}},
  {"spacing": 14, "hconcat": [
   {"width": 24, "height": 321, "data": {"values": [{"label": "Peak Height (mV)"}]}, "mark": {"type": "text", "angle": 270, "font": "Liberation Serif", "fontSize": 20, "color": "#222"}, "encoding": {"text": {"field": "label"}}},
   {"spacing": 5, "vconcat": [
    {"spacing": 12, "vconcat": [
     {"width": 418, "height": 153, "view": {"stroke": "#8c8c8c", "strokeWidth": 2}, "layer": [
      {"data": {"name": "C1"}, "mark": {"type": "line", "clip": true, "color": "#505050", "strokeWidth": 1.3}, "encoding": {"x": {"field": "t", "type": "quantitative", "title": "min", "scale": {"domain": [-0.39, 32.27], "nice": false, "zero": false}, "axis": {"values": [0, 10, 20, 30], "titleX": 415}}, "y": {"field": "v", "type": "quantitative", "title": "mV", "scale": {"domain": [-0.87, 8.02], "nice": false, "zero": false}, "axis": {"values": [0, 1, 2, 3, 4, 5, 6, 7]}}}},
      {"data": {"name": "labels"}, "transform": [{"filter": "datum.panel == 'C1' && datum.part == 'site'"}], "mark": {"type": "text", "align": "left", "baseline": "middle", "font": "Liberation Serif", "fontSize": 22, "color": "#000"}, "encoding": {"x": {"field": "t", "type": "quantitative", "title": "min"}, "y": {"field": "v", "type": "quantitative", "title": "mV"}, "text": {"field": "label"}}},
      {"data": {"name": "labels"}, "transform": [{"filter": "datum.panel == 'C1' && datum.part == 'taxon'"}], "mark": {"type": "text", "align": "left", "baseline": "middle", "font": "Liberation Serif", "fontSize": 22, "fontStyle": "italic", "color": "#000"}, "encoding": {"x": {"field": "t", "type": "quantitative", "title": "min"}, "y": {"field": "v", "type": "quantitative", "title": "mV"}, "text": {"field": "label"}}}
     ]},
     {"width": 418, "height": 154, "view": {"stroke": "#8c8c8c", "strokeWidth": 2}, "layer": [
      {"data": {"name": "C2"}, "mark": {"type": "line", "clip": true, "color": "#505050", "strokeWidth": 1.3}, "encoding": {"x": {"field": "t", "type": "quantitative", "title": "min", "scale": {"domain": [-0.39, 32.27], "nice": false, "zero": false}, "axis": {"values": [0, 10, 20, 30], "titleX": 415}}, "y": {"field": "v", "type": "quantitative", "title": "mV", "scale": {"domain": [-0.79, 5.02], "nice": false, "zero": false}, "axis": {"values": [0, 1, 2, 3, 4]}}}},
      {"data": {"name": "labels"}, "transform": [{"filter": "datum.panel == 'C2' && datum.part == 'site'"}], "mark": {"type": "text", "align": "left", "baseline": "middle", "font": "Liberation Serif", "fontSize": 22, "fontWeight": "bold", "color": "#000"}, "encoding": {"x": {"field": "t", "type": "quantitative", "title": "min"}, "y": {"field": "v", "type": "quantitative", "title": "mV"}, "text": {"field": "label"}}},
      {"data": {"name": "labels"}, "transform": [{"filter": "datum.panel == 'C2' && datum.part == 'taxon'"}], "mark": {"type": "text", "align": "left", "baseline": "middle", "font": "Liberation Serif", "fontSize": 22, "fontWeight": "bold", "fontStyle": "italic", "color": "#000"}, "encoding": {"x": {"field": "t", "type": "quantitative", "title": "min"}, "y": {"field": "v", "type": "quantitative", "title": "mV"}, "text": {"field": "label"}}}
     ]}
    ]},
    {"width": 446, "height": 28, "data": {"values": [{"label": "Retention Time (minutes)"}]}, "mark": {"type": "text", "font": "Liberation Serif", "fontSize": 21, "color": "#222"}, "encoding": {"text": {"field": "label"}}}
   ]}
  ]}
 ]}
]
}
